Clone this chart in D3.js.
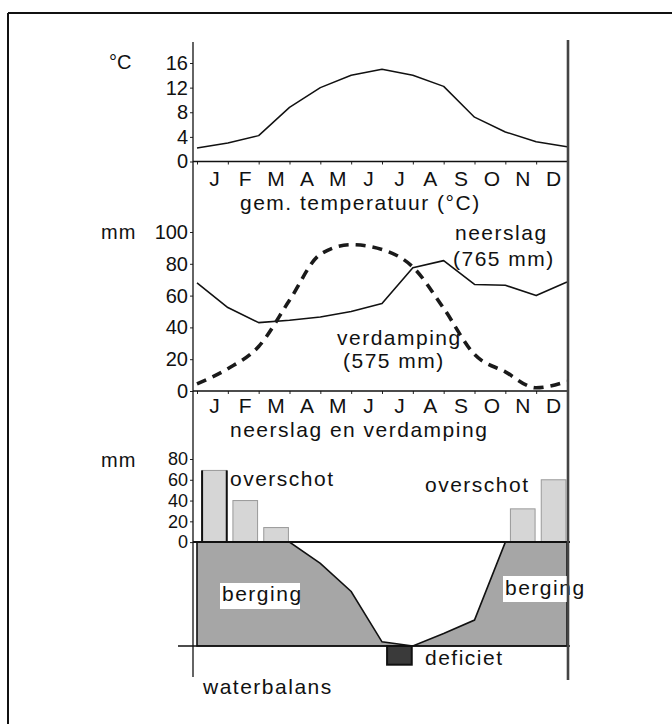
<!DOCTYPE html>
<html>
<head>
<meta charset="utf-8">
<script src="https://cdn.jsdelivr.net/npm/d3@7"></script>
<style>
  body { margin: 0; background: #fff; }
  text { font-family: "Liberation Sans", Arial, sans-serif; fill: #111; }
</style>
</head>
<body>
<div id="chart"></div>
<script>
// data (13 points = month boundaries, jan .. jan)
var months = ["J", "F", "M", "A", "M", "J", "J", "A", "S", "O", "N", "D"];
var temperatuur = [2.2, 3.0, 4.2, 8.8, 12.0, 14.0, 15.0, 14.0, 12.2, 7.2, 4.8, 3.2, 2.4];
var neerslag = [68, 52.5, 43, 44.5, 46.5, 50, 55, 77.5, 82, 67, 66.5, 60, 68.5];
var verdamping = [4.5, 14, 28, 57, 86, 92, 89, 78, 52, 23, 12, 2, 6];
// bottom chart: per month bars and storage curve
var overschot = [69, 40, 14, 0, 0, 0, 0, 0, 0, 0, 32, 60];
var deficiet = [0, 0, 0, 0, 0, 0, 18, 0, 0, 0, 0, 0];
var berging = [0, 0, 0, 0, -20.5, -47.5, -96, -100, -88, -75, 0, 0, 0];
var tempTicks = [0, 4, 8, 12, 16];
var mmTicks = [0, 20, 40, 60, 80, 100];
var balTicks = [0, 20, 40, 60, 80];

var W = 672, H = 724;
var axisX = 193, rightX = 568;

var svg = d3.select("#chart")
    .append("svg")
    .attr("width", W)
    .attr("height", H);

// frame (top + left edge)
svg.append("line").attr("x1", 8).attr("y1", 13).attr("x2", W).attr("y2", 13)
    .attr("stroke", "#111").attr("stroke-width", 2);
svg.append("line").attr("x1", 8).attr("y1", 13).attr("x2", 8).attr("y2", H)
    .attr("stroke", "#111").attr("stroke-width", 2);

// shared x scales
var x = d3.scaleLinear().domain([0, 12]).range([197, 567]);
var xb = d3.scaleBand().domain(d3.range(12)).range([199, 569])
    .paddingInner(0.2).paddingOuter(0.1);

// y scales
var yT = d3.scaleLinear().domain([0, 16]).range([161.5, 63]);
var yM = d3.scaleLinear().domain([0, 100]).range([391, 232]);
var yB = d3.scaleLinear().domain([-100, 80]).range([646, 459]);

function txt(s, x0, y0, size, spacing) {
    return svg.append("text")
        .attr("x", x0).attr("y", y0)
        .style("font-size", size + "px")
        .style("letter-spacing", (spacing || 0) + "px")
        .text(s);
}

function yAxis(scale, ticks, size) {
    var g = svg.append("g")
        .attr("transform", "translate(" + axisX + ",0)")
        .call(d3.axisLeft(scale).tickValues(ticks).tickSize(3).tickPadding(2));
    g.select(".domain").remove();
    g.selectAll("line").attr("stroke", "#222");
    g.selectAll("text")
        .style("font-size", size + "px")
        .style("font-family", "'Liberation Sans', Arial, sans-serif")
        .attr("fill", "#111");
    return g;
}

function xAxis(yPos) {
    var g = svg.append("g")
        .attr("transform", "translate(0," + yPos + ")")
        .call(d3.axisBottom(x).tickValues(d3.range(13)).tickSize(3).tickFormat(""));
    g.select(".domain").remove();
    g.selectAll("line").attr("stroke", "#222");
    svg.append("line")
        .attr("x1", axisX).attr("x2", rightX)
        .attr("y1", yPos).attr("y2", yPos)
        .attr("stroke", "#111").attr("stroke-width", 1.6);
}

function monthLabels(yPos) {
    svg.append("g").selectAll("text")
        .data(months)
        .enter().append("text")
        .attr("x", function(d, i) { return x(i + 0.5) + 2; })
        .attr("y", yPos)
        .attr("text-anchor", "middle")
        .style("font-size", "21px")
        .text(function(d) { return d; });
}

// ---- top: temperature
yAxis(yT, tempTicks, 20);
xAxis(yT(0));
svg.append("path")
    .datum(temperatuur)
    .attr("fill", "none")
    .attr("stroke", "#111")
    .attr("stroke-width", 1.5)
    .attr("stroke-linejoin", "round")
    .attr("d", d3.line()
        .x(function(d, i) { return x(i); })
        .y(function(d) { return yT(d); }));
txt("°C", 109, 69, 20);
monthLabels(186);
txt("gem. temperatuur (°C)", 240, 210, 21, 1.5);

// ---- middle: neerslag en verdamping
yAxis(yM, mmTicks, 20);
xAxis(yM(0));
svg.append("path")
    .datum(neerslag)
    .attr("fill", "none")
    .attr("stroke", "#111")
    .attr("stroke-width", 1.6)
    .attr("stroke-linejoin", "round")
    .attr("d", d3.line()
        .x(function(d, i) { return x(i); })
        .y(function(d) { return yM(d); }));
svg.append("path")
    .datum(verdamping)
    .attr("fill", "none")
    .attr("stroke", "#1a1a1a")
    .attr("stroke-width", 3.6)
    .attr("stroke-dasharray", "10,7")
    .attr("d", d3.line()
        .curve(d3.curveMonotoneX)
        .x(function(d, i) { return x(i); })
        .y(function(d) { return yM(d); }));
txt("mm", 101, 239, 20, 1);
txt("neerslag", 455, 240, 21, 1.5);
txt("(765 mm)", 453, 266, 21, 1.5);
txt("verdamping", 337, 345, 21, 1.5);
txt("(575 mm)", 343, 368, 21, 1.5);
monthLabels(413);
txt("neerslag en verdamping", 230, 437, 21, 1.5);

// ---- bottom: waterbalans
svg.append("path")
    .datum(berging)
    .attr("fill", "#a6a6a6")
    .attr("stroke", "#111")
    .attr("stroke-width", 1.6)
    .attr("d", d3.area()
        .x(function(d, i) { return x(i); })
        .y0(yB(-100))
        .y1(function(d) { return yB(d); }));

var bars = overschot.map(function(d, i) { return {i: i, v: d}; })
    .filter(function(d) { return d.v > 0; });
svg.append("g").selectAll("rect")
    .data(bars)
    .enter().append("rect")
    .attr("x", function(d) { return xb(d.i); })
    .attr("y", function(d) { return yB(d.v); })
    .attr("width", xb.bandwidth())
    .attr("height", function(d) { return yB(0) - yB(d.v); })
    .attr("fill", "#d6d6d6")
    .attr("stroke", "#999")
    .attr("stroke-width", 1);

// January bar has black sides
[0, xb.bandwidth()].forEach(function(dx) {
    svg.append("line")
        .attr("x1", xb(0) + dx).attr("x2", xb(0) + dx)
        .attr("y1", yB(overschot[0])).attr("y2", yB(0))
        .attr("stroke", "#111").attr("stroke-width", 2);
});

svg.append("g").selectAll("rect")
    .data(deficiet.map(function(d, i) { return {i: i, v: d}; })
        .filter(function(d) { return d.v > 0; }))
    .enter().append("rect")
    .attr("x", function(d) { return xb(d.i); })
    .attr("y", yB(-100))
    .attr("width", xb.bandwidth())
    .attr("height", function(d) { return yB(-100 - d.v) - yB(-100); })
    .attr("fill", "#3a3a3a")
    .attr("stroke", "#111")
    .attr("stroke-width", 2);

// zero line and bottom line
svg.append("line")
    .attr("x1", axisX).attr("x2", rightX + 2)
    .attr("y1", yB(0)).attr("y2", yB(0))
    .attr("stroke", "#111").attr("stroke-width", 2);
svg.append("line")
    .attr("x1", 178).attr("x2", rightX + 2)
    .attr("y1", yB(-100)).attr("y2", yB(-100))
    .attr("stroke", "#111").attr("stroke-width", 1.4);

yAxis(yB, balTicks, 18);

// labels bottom
txt("mm", 101, 467, 20, 1);
txt("overschot", 230, 486, 21, 1.5);
txt("overschot", 425, 492, 21, 1.5);

svg.append("rect").attr("x", 220).attr("y", 583).attr("width", 80).attr("height", 26).attr("fill", "#fff");
txt("berging", 222, 601, 21, 1.5);
svg.append("rect").attr("x", 503).attr("y", 576).attr("width", 75).attr("height", 26).attr("fill", "#fff");
txt("berging", 505, 595, 21, 1.5);
txt("deficiet", 425, 665, 21, 1.5);
txt("waterbalans", 203, 694, 21, 1.5);

// long vertical lines
svg.append("line")
    .attr("x1", axisX).attr("x2", axisX)
    .attr("y1", 42).attr("y2", 677)
    .attr("stroke", "#111").attr("stroke-width", 1.3);
svg.append("line")
    .attr("x1", rightX).attr("x2", rightX)
    .attr("y1", 40).attr("y2", 680)
    .attr("stroke", "#444").attr("stroke-width", 2.6);
</script>
</body>
</html>
